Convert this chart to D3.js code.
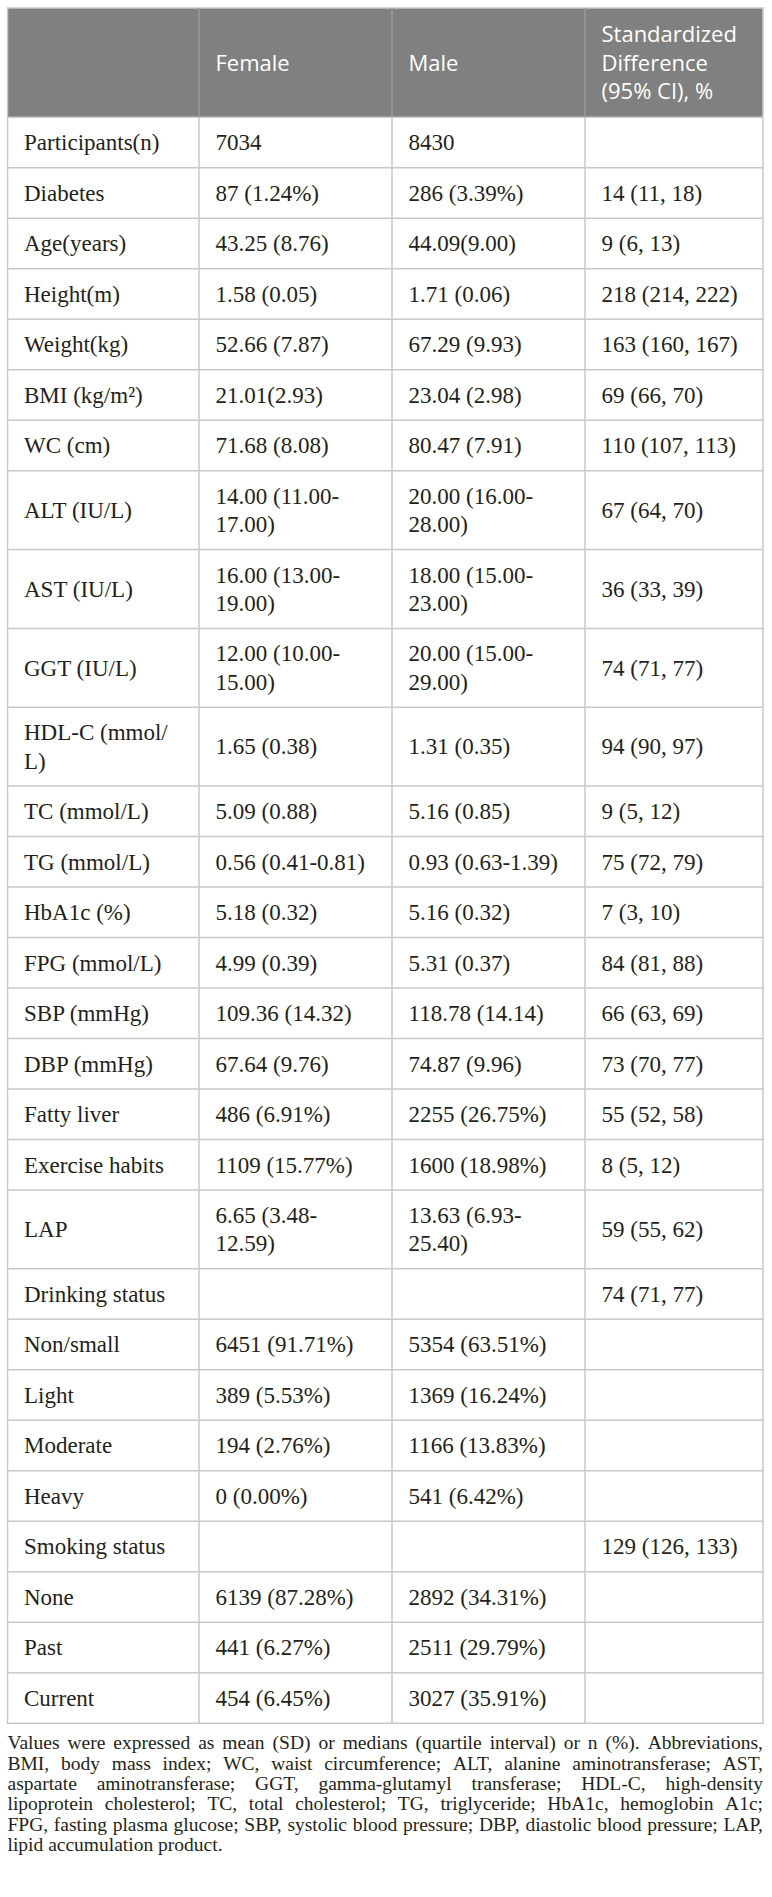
<!DOCTYPE html>
<html>
<head>
<meta charset="utf-8">
<script src="https://cdn.jsdelivr.net/npm/d3@7"></script>
<style>
  body { margin: 0; background: #fff; }
</style>
</head>
<body>
<div id="table"></div>
<script>
// column headings ("\n" = line break inside the cell)
const headers = ["", "Female", "Male", "Standardized\nDifference\n(95% CI), %"];

const variables = [
  "Participants(n)", "Diabetes", "Age(years)", "Height(m)", "Weight(kg)",
  "BMI (kg/m²)", "WC (cm)", "ALT (IU/L)", "AST (IU/L)", "GGT (IU/L)",
  "HDL-C (mmol/\nL)", "TC (mmol/L)", "TG (mmol/L)", "HbA1c (%)", "FPG (mmol/L)",
  "SBP (mmHg)", "DBP (mmHg)", "Fatty liver", "Exercise habits", "LAP",
  "Drinking status", "Non/small", "Light", "Moderate", "Heavy",
  "Smoking status", "None", "Past", "Current"
];

const female = [
  "7034", "87 (1.24%)", "43.25 (8.76)", "1.58 (0.05)", "52.66 (7.87)",
  "21.01(2.93)", "71.68 (8.08)", "14.00 (11.00-\n17.00)", "16.00 (13.00-\n19.00)", "12.00 (10.00-\n15.00)",
  "1.65 (0.38)", "5.09 (0.88)", "0.56 (0.41-0.81)", "5.18 (0.32)", "4.99 (0.39)",
  "109.36 (14.32)", "67.64 (9.76)", "486 (6.91%)", "1109 (15.77%)", "6.65 (3.48-\n12.59)",
  "", "6451 (91.71%)", "389 (5.53%)", "194 (2.76%)", "0 (0.00%)",
  "", "6139 (87.28%)", "441 (6.27%)", "454 (6.45%)"
];

const male = [
  "8430", "286 (3.39%)", "44.09(9.00)", "1.71 (0.06)", "67.29 (9.93)",
  "23.04 (2.98)", "80.47 (7.91)", "20.00 (16.00-\n28.00)", "18.00 (15.00-\n23.00)", "20.00 (15.00-\n29.00)",
  "1.31 (0.35)", "5.16 (0.85)", "0.93 (0.63-1.39)", "5.16 (0.32)", "5.31 (0.37)",
  "118.78 (14.14)", "74.87 (9.96)", "2255 (26.75%)", "1600 (18.98%)", "13.63 (6.93-\n25.40)",
  "", "5354 (63.51%)", "1369 (16.24%)", "1166 (13.83%)", "541 (6.42%)",
  "", "2892 (34.31%)", "2511 (29.79%)", "3027 (35.91%)"
];

const stdDiff = [
  "", "14 (11, 18)", "9 (6, 13)", "218 (214, 222)", "163 (160, 167)",
  "69 (66, 70)", "110 (107, 113)", "67 (64, 70)", "36 (33, 39)", "74 (71, 77)",
  "94 (90, 97)", "9 (5, 12)", "75 (72, 79)", "7 (3, 10)", "84 (81, 88)",
  "66 (63, 69)", "73 (70, 77)", "55 (52, 58)", "8 (5, 12)", "59 (55, 62)",
  "74 (71, 77)", "", "", "", "",
  "129 (126, 133)", "", "", ""
];

const footnoteLines = [
  "Values were expressed as mean (SD) or medians (quartile interval) or n (%). Abbreviations,",
  "BMI, body mass index; WC, waist circumference; ALT, alanine aminotransferase; AST,",
  "aspartate aminotransferase; GGT, gamma-glutamyl transferase; HDL-C, high-density",
  "lipoprotein cholesterol; TC, total cholesterol; TG, triglyceride; HbA1c, hemoglobin A1c;",
  "FPG, fasting plasma glucose; SBP, systolic blood pressure; DBP, diastolic blood pressure; LAP,",
  "lipid accumulation product."
];

const width = 772, height = 1897;
const colEdges = [7.5, 199, 392, 585, 763];
const tableTop = 8;
const lineH = 28.3;
const padX = 16.5;

const svg = d3.select("#table").append("svg")
    .attr("width", width)
    .attr("height", height);

const rows = variables.map((v, i) => [v, female[i], male[i], stdDiff[i]]);
const nLines = r => d3.max(r, c => c.split("\n").length);

// header block
const headerLines = nLines(headers);
const headerH = 24.4 + headerLines * lineH;

// body row positions
let y = tableTop + headerH;
const rowLayout = rows.map(r => {
  const h = 22.2 + nLines(r) * lineH;
  const o = { cells: r, y0: y, h: h };
  y += h;
  return o;
});
const tableBottom = y;

svg.append("rect")
    .attr("x", colEdges[0])
    .attr("y", tableTop)
    .attr("width", colEdges[4] - colEdges[0])
    .attr("height", headerH)
    .attr("fill", "#808080");

// cell text
function drawCell(g, text, col, yc, opts) {
  const lines = text.split("\n");
  const t = g.append("text")
      .attr("x", colEdges[col] + padX)
      .attr("font-family", opts.family)
      .attr("font-size", opts.size)
      .attr("fill", opts.fill);
  lines.forEach((ln, k) => {
    t.append("tspan")
        .attr("x", colEdges[col] + padX)
        .attr("y", yc - (lines.length - 1) * lineH / 2 + k * lineH + opts.shift)
        .text(ln);
  });
}

const gHead = svg.append("g");
headers.forEach((h, c) => {
  drawCell(gHead, h, c, tableTop + headerH / 2, {
    family: "'Open Sans', sans-serif", size: "22px", fill: "#fff", shift: 8
  });
});

const gBody = svg.append("g");
rowLayout.forEach(r => {
  r.cells.forEach((c, ci) => {
    drawCell(gBody, c, ci, r.y0 + r.h / 2, {
      family: "'Liberation Serif', 'Times New Roman', serif", size: "23px", fill: "#231f20", shift: 7.8
    });
  });
});

// grid lines
const grid = svg.append("g")
    .attr("stroke", "#c8c8c8")
    .attr("stroke-width", 1.5)
    .attr("fill", "none");

grid.selectAll(".hline")
    .data(rowLayout.slice(1))
    .enter().append("line")
    .attr("x1", colEdges[0]).attr("x2", colEdges[4])
    .attr("y1", d => d.y0).attr("y2", d => d.y0);

grid.append("line")
    .attr("x1", colEdges[0]).attr("x2", colEdges[4])
    .attr("y1", tableTop + headerH).attr("y2", tableTop + headerH);

grid.selectAll(".vline")
    .data(colEdges.slice(1, 4))
    .enter().append("line")
    .attr("x1", d => d).attr("x2", d => d)
    .attr("y1", tableTop + headerH).attr("y2", tableBottom);

svg.append("g")
    .attr("stroke", "#9a9a9a")
    .attr("stroke-width", 1.5)
    .selectAll("line")
    .data(colEdges.slice(1, 4))
    .enter().append("line")
    .attr("x1", d => d).attr("x2", d => d)
    .attr("y1", tableTop).attr("y2", tableTop + headerH);

grid.append("rect")
    .attr("x", colEdges[0])
    .attr("y", tableTop)
    .attr("width", colEdges[4] - colEdges[0])
    .attr("height", tableBottom - tableTop);

// footnote, justified to the table width
const noteSize = 19.5;
const noteLineH = 20.3;
const noteTop = tableBottom + 26;
const noteW = colEdges[4] - colEdges[0];
const gNote = svg.append("g")
    .attr("font-family", "'Liberation Serif', 'Times New Roman', serif")
    .attr("font-size", noteSize + "px")
    .attr("fill", "#231f20");

footnoteLines.forEach((ln, i) => {
  const yb = noteTop + i * noteLineH;
  const words = ln.split(" ");
  const last = i === footnoteLines.length - 1;
  const nodes = words.map(w => gNote.append("text").attr("y", yb).text(w));
  const widths = nodes.map(n => n.node().getComputedTextLength());
  const gap = last ? noteSize * 0.25 : (noteW - d3.sum(widths)) / (words.length - 1);
  let x = colEdges[0];
  nodes.forEach((n, k) => {
    n.attr("x", x);
    x += widths[k] + gap;
  });
});
</script>
</body>
</html>
